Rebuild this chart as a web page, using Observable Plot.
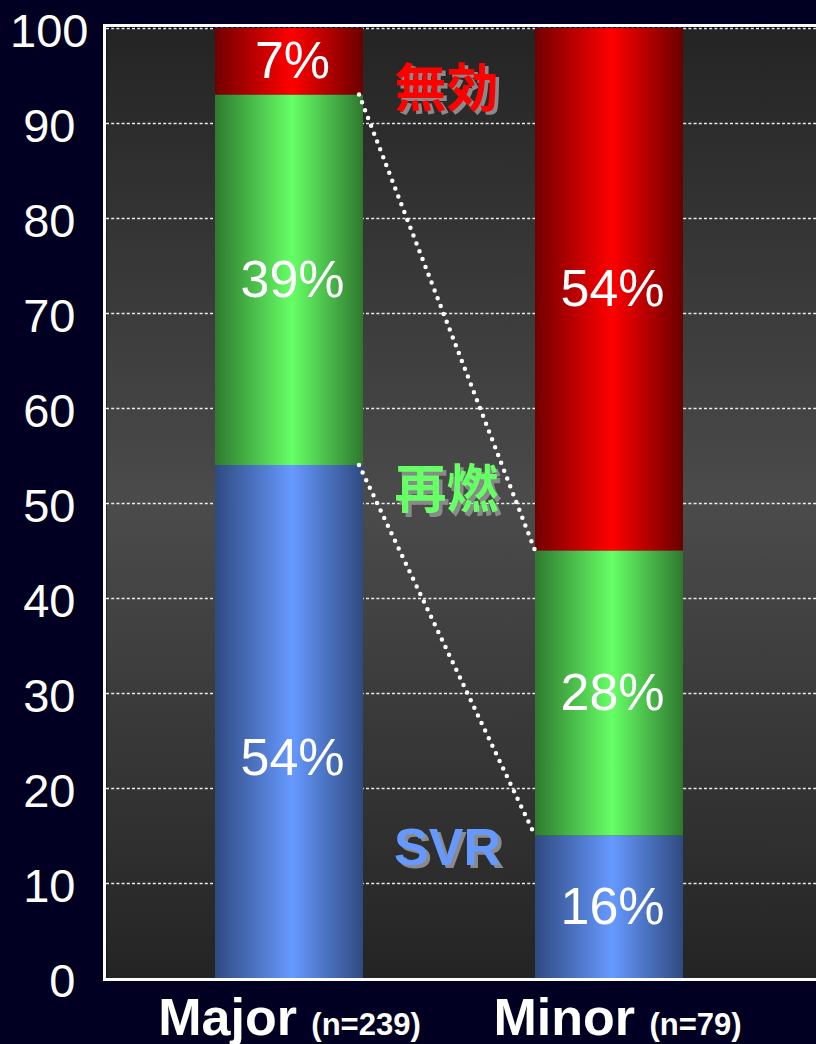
<!DOCTYPE html>
<html><head><meta charset="utf-8">
<script src="https://cdn.jsdelivr.net/npm/d3@7"></script>
<script src="https://cdn.jsdelivr.net/npm/@observablehq/plot@0.6"></script>
<style>
html,body{margin:0;padding:0;background:#020022;overflow:hidden;}
#chart svg{display:block;}
</style>
</head><body><div id="chart"></div>
<script>
// ---- data ----
const groups = ["Major", "Minor"];
const groupN = ["(n=239)", "(n=79)"];
const series = ["SVR", "再燃", "無効"];
const seriesKeys = ["svr", "relapse", "null"];
const majorValues = [54, 39, 7];      // as drawn
const minorValues = [15, 30, 55];     // as drawn
const majorLabels = ["54%", "39%", "7%"];
const minorLabels = ["16%", "28%", "54%"];
const yTicks = [0, 10, 20, 30, 40, 50, 60, 70, 80, 90, 100];

const NS = "http://www.w3.org/2000/svg";
const data = [];
groups.forEach((g, gi) => {
  const vals = gi === 0 ? majorValues : minorValues;
  const labs = gi === 0 ? majorLabels : minorLabels;
  series.forEach((s, si) => data.push({group: g, series: s, key: seriesKeys[si], value: vals[si], label: labs[si]}));
});
const majorCum = Array.from(d3.cumsum(majorValues));
const minorCum = Array.from(d3.cumsum(minorValues));

// ---- helper marks ----
function defsMark() {
  const defs = document.createElementNS(NS, "defs");
  defs.innerHTML = `
    <linearGradient id="bg" x1="0" y1="0" x2="0" y2="1">
      <stop offset="0" stop-color="#242424"/>
      <stop offset="0.5" stop-color="#4b4b4b"/>
      <stop offset="1" stop-color="#242424"/>
    </linearGradient>
    <linearGradient id="grad-null" x1="0" y1="0" x2="1" y2="0">
      <stop offset="0" stop-color="#720000"/>
      <stop offset="0.52" stop-color="#ff0000"/>
      <stop offset="1" stop-color="#6a0000"/>
    </linearGradient>
    <linearGradient id="grad-relapse" x1="0" y1="0" x2="1" y2="0">
      <stop offset="0" stop-color="#2f7a30"/>
      <stop offset="0.52" stop-color="#66ff66"/>
      <stop offset="1" stop-color="#2f782f"/>
    </linearGradient>
    <linearGradient id="grad-svr" x1="0" y1="0" x2="1" y2="0">
      <stop offset="0" stop-color="#2f4a80"/>
      <stop offset="0.52" stop-color="#6699ff"/>
      <stop offset="1" stop-color="#2f4a80"/>
    </linearGradient>`;
  return defs;
}

function bandwidthOf(x) {
  return typeof x.bandwidth === "function" ? x.bandwidth() : x.bandwidth;
}

function connectorMark(index, scales) {
  const x = scales.x, y = scales.y;
  const bw = bandwidthOf(x);
  const g = document.createElementNS(NS, "g");
  [0, 1].forEach(i => {
    const line = document.createElementNS(NS, "line");
    line.setAttribute("x1", x(groups[0]) + bw - 4);
    line.setAttribute("y1", y(majorCum[i]));
    line.setAttribute("x2", x(groups[1]));
    line.setAttribute("y2", y(minorCum[i]));
    line.setAttribute("stroke", "white");
    line.setAttribute("stroke-width", 4.5);
    line.setAttribute("stroke-linecap", "round");
    line.setAttribute("stroke-dasharray", "0 8.4");
    g.appendChild(line);
  });
  return g;
}

function borderMark(index, scales, values, dims) {
  const {width, height, marginLeft, marginTop, marginBottom} = dims;
  const g = document.createElementNS(NS, "g");
  const segs = [
    [marginLeft - 1.5, marginTop - 4, marginLeft - 1.5, height - marginBottom + 3],
    [marginLeft - 3, marginTop - 2.5, width, marginTop - 2.5],
    [marginLeft - 3, height - marginBottom + 1.5, width, height - marginBottom + 1.5]
  ];
  segs.forEach(([a, b, c, d]) => {
    const l = document.createElementNS(NS, "line");
    l.setAttribute("x1", a); l.setAttribute("y1", b);
    l.setAttribute("x2", c); l.setAttribute("y2", d);
    l.setAttribute("stroke", "white");
    l.setAttribute("stroke-width", 3);
    g.appendChild(l);
  });
  return g;
}

const cjk = "'Noto Sans CJK JP', 'Noto Sans CJK SC', sans-serif";
const sans = "'Liberation Sans', Arial, sans-serif";

function shadowText(stackFn, name, opts) {
  const base = {
    x: "group", y: "value", z: "series",
    text: d => d.series === name && d.group === opts.group ? d.series : null
  };
  const common = {fontSize: 52, fontWeight: "bold", fontFamily: opts.font, textAnchor: "middle", lineAnchor: "middle"};
  return [
    Plot.text(data, stackFn({...base, ...common, fill: "#8a8a8a", dx: opts.dx + 3.5, dy: opts.dy + 3.5})),
    Plot.text(data, stackFn({...base, ...common, fill: opts.color, dx: opts.dx, dy: opts.dy}))
  ];
}

const plot = Plot.plot({
  width: 816,
  height: 1044,
  marginLeft: 106,
  marginRight: 0,
  marginTop: 28,
  marginBottom: 66,
  style: {background: "#020022", color: "white", fontFamily: sans, overflow: "hidden"},
  x: {domain: groups, range: [106, 792], paddingInner: 0.5375, paddingOuter: 0.34, align: 0.5, label: null},
  y: {domain: [0, 100], label: null},
  color: {type: "identity"},
  marks: [
    defsMark,
    Plot.frame({fill: "url(#bg)", stroke: null}),
    Plot.ruleY(yTicks.filter(t => t > 0), {stroke: "white", strokeWidth: 1.5, strokeOpacity: 0.9, strokeDasharray: "3 2.2"}),
    Plot.barY(data, Plot.stackY({x: "group", y: "value", z: "series", fill: d => `url(#grad-${d.key})`, inset: 0})),
    Plot.text(data, Plot.stackY({
      x: "group", y: "value", z: "series",
      text: d => (d.group === "Major" && d.key === "svr") ? null : d.label,
      fill: "white", fontSize: 52, fontFamily: sans, lineAnchor: "middle", dx: 3
    })),
    Plot.text(data, Plot.stackY({
      x: "group", y: "value", z: "series",
      text: d => (d.group === "Major" && d.key === "svr") ? d.label : null,
      fill: "white", fontSize: 52, fontFamily: sans, lineAnchor: "middle", dx: 3, dy: 36
    })),
    connectorMark,
    ...shadowText(Plot.stackY1, "無効", {group: "Major", dx: 157, dy: -5, color: "#ff0000", font: cjk}),
    ...shadowText(Plot.stackY1, "再燃", {group: "Major", dx: 157, dy: 26, color: "#66ff66", font: cjk}),
    ...shadowText(Plot.stackY2, "SVR", {group: "Minor", dx: -162, dy: 12, color: "#6699ff", font: sans}),
    Plot.axisY({ticks: yTicks, tickSize: 0, tickPadding: 31, fontSize: 47, fontFamily: sans, dy: 3}),
    Plot.axisX({tickSize: 0, tickPadding: 20, fontSize: 52, fontFamily: sans, fontWeight: "bold"}),
    borderMark
  ]
});

d3.select(plot).selectAll('g[aria-label="x-axis tick label"] text').each(function () {
  const name = this.textContent;
  const gi = groups.indexOf(name);
  if (gi < 0) return;
  while (this.firstChild) this.removeChild(this.firstChild);
  const t1 = document.createElementNS(NS, "tspan");
  t1.textContent = name + " ";
  const t2 = document.createElementNS(NS, "tspan");
  t2.setAttribute("font-size", 31);
  t2.textContent = groupN[gi];
  this.appendChild(t1);
  this.appendChild(t2);
  this.setAttribute("font-weight", "bold");
  if (gi === 1) this.setAttribute("dx", 8);
});

// the reference's 3-digit top label sits further right than the others
d3.select(plot).selectAll('g[aria-label="y-axis tick label"] text').each(function () {
  if (this.textContent === String(yTicks[yTicks.length - 1])) this.setAttribute("dx", 13);
});

document.getElementById("chart").appendChild(plot);
</script>
</body></html>
